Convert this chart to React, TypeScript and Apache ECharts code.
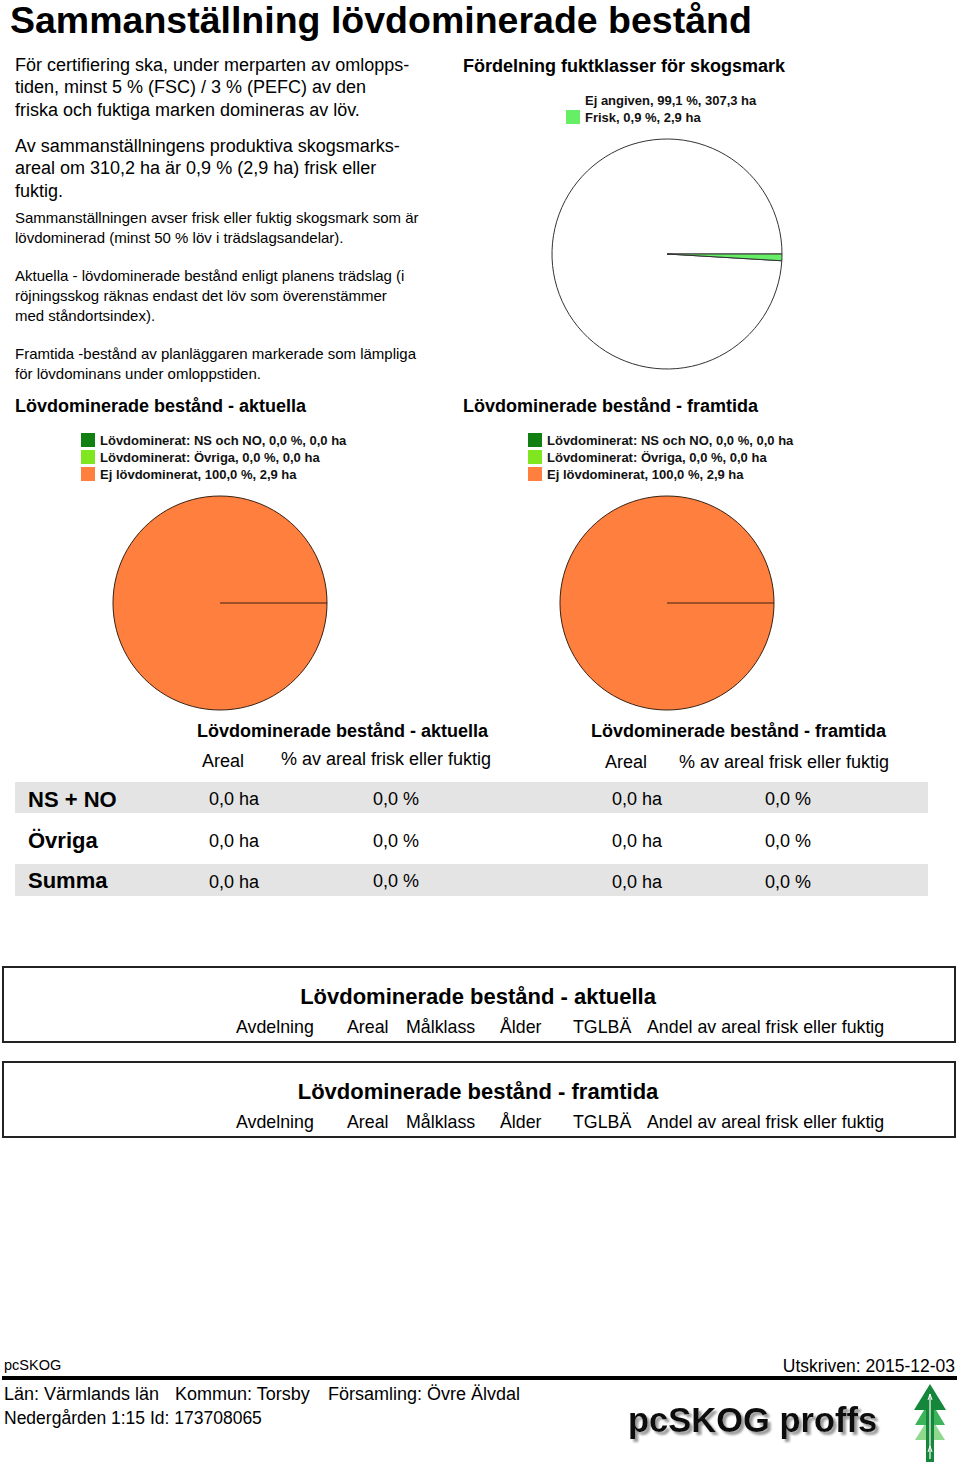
import React, { useEffect, useRef } from "react";
import * as echarts from "echarts";

const FONT = '"Liberation Sans", Arial, sans-serif';

// Pie: fuktklasser
const moistureClasses = ["Ej angiven", "Frisk"];
const moistureArea = [307.3, 2.9];
const moisturePct = [99.1, 0.9];
const moistureColors = ["#ffffff", "#66ee66"];

// Pies: lövdominerade
const leafClasses = ["Lövdominerat: NS och NO", "Lövdominerat: Övriga", "Ej lövdominerat"];
const leafColors = ["#127f12", "#80e620", "#ff7f3f"];
const currentArea = [0.0, 0.0, 2.9];
const currentPct = [0.0, 0.0, 100.0];
const futureArea = [0.0, 0.0, 2.9];
const futurePct = [0.0, 0.0, 100.0];

// Summary table
const tableRows = ["NS + NO", "Övriga", "Summa"];
const tableCurrentArea = [0.0, 0.0, 0.0];
const tableCurrentPct = [0.0, 0.0, 0.0];
const tableFutureArea = [0.0, 0.0, 0.0];
const tableFuturePct = [0.0, 0.0, 0.0];

// Detail tables
const detailColumns = ["Avdelning", "Areal", "Målklass", "Ålder", "TGLBÄ", "Andel av areal frisk eller fuktig"];

const fmt = (v: number) => v.toFixed(1).replace(".", ",");

// Pie geometry (layout)
const TOP_PIE = { center: [667, 254], radius: 115 };
const CUR_PIE = { center: [220, 603], radius: 107 };
const FUT_PIE = { center: [667, 603], radius: 107 };

function txt(text: string, x: number, y: number, size: number, opts: any = {}) {
  return {
    type: "text",
    x,
    y,
    silent: true,
    style: {
      text,
      font: `${opts.bold ? "bold " : ""}${size}px ${FONT}`,
      fill: opts.color || "#000",
      align: opts.align || "left",
      verticalAlign: "middle",
      textShadowColor: opts.shadow ? "#9a9a9a" : undefined,
      textShadowOffsetX: opts.shadow ? 3 : 0,
      textShadowOffsetY: opts.shadow ? 3 : 0,
      textShadowBlur: opts.shadow ? 2 : 0,
    },
  };
}

export default function App() {
  const ref = useRef<HTMLDivElement>(null);
  useEffect(() => {
    if (!ref.current) return;
    const chart = echarts.init(ref.current, undefined, { renderer: "svg" });

    const pieBase = {
      type: "pie",
      startAngle: 0,
      clockwise: false,
      silent: true,
      label: { show: false },
      labelLine: { show: false },
      emphasis: { disabled: true },
      avoidLabelOverlap: false,
    };

    const legendBase = {
      orient: "vertical",
      itemWidth: 14,
      itemHeight: 14,
      itemGap: 3,
      icon: "rect",
      selectedMode: false,
      itemStyle: { borderWidth: 0 },
      textStyle: { fontFamily: FONT, fontSize: 13, fontWeight: "bold", color: "#111" },
    };

    const graphics: any[] = [];
    // Title
    graphics.push(txt("Sammanställning lövdominerade bestånd", 10, 19.5, 37.5, { bold: true }));
    // Paragraphs
    const p1 = [
      "För certifiering ska, under merparten av omlopps-",
      "tiden, minst 5 % (FSC) / 3 % (PEFC) av den",
      "friska och fuktiga marken domineras av löv.",
    ];
    p1.forEach((l, i) => graphics.push(txt(l, 15, 65 + i * 22.3, 18)));
    const p2 = [
      "Av sammanställningens produktiva skogsmarks-",
      "areal om 310,2 ha är 0,9 % (2,9 ha) frisk eller",
      "fuktig.",
    ];
    p2.forEach((l, i) => graphics.push(txt(l, 15, 146 + i * 22.3, 18)));
    const p3 = [
      "Sammanställningen avser frisk eller fuktig skogsmark som är",
      "lövdominerad (minst 50 % löv i trädslagsandelar).",
    ];
    p3.forEach((l, i) => graphics.push(txt(l, 15, 217 + i * 20, 15)));
    const p4 = [
      "Aktuella - lövdominerade bestånd enligt planens trädslag (i",
      "röjningsskog räknas endast det löv som överenstämmer",
      "med ståndortsindex).",
    ];
    p4.forEach((l, i) => graphics.push(txt(l, 15, 275 + i * 20, 15)));
    const p5 = [
      "Framtida -bestånd av planläggaren markerade som lämpliga",
      "för lövdominans under omloppstiden.",
    ];
    p5.forEach((l, i) => graphics.push(txt(l, 15, 353 + i * 20, 15)));

    // Section headings
    graphics.push(txt("Fördelning fuktklasser för skogsmark", 463, 66, 18, { bold: true }));
    graphics.push(txt("Lövdominerade bestånd - aktuella", 15, 406, 18, { bold: true }));
    graphics.push(txt("Lövdominerade bestånd - framtida", 463, 406, 18, { bold: true }));

    // Seam of full-circle pies (radial edge at start angle)
    [CUR_PIE, FUT_PIE].forEach((p) => {
      graphics.push({
        type: "line",
        silent: true,
        z: 10,
        shape: { x1: p.center[0], y1: p.center[1], x2: p.center[0] + p.radius, y2: p.center[1] },
        style: { stroke: "#3a2010", lineWidth: 1 },
      });
    });

    // Summary table
    graphics.push({ type: "rect", silent: true, shape: { x: 15, y: 782, width: 913, height: 31 }, style: { fill: "#e4e4e4" } });
    graphics.push({ type: "rect", silent: true, shape: { x: 15, y: 864, width: 913, height: 32 }, style: { fill: "#e4e4e4" } });
    graphics.push(txt("Lövdominerade bestånd - aktuella", 197, 731, 18, { bold: true }));
    graphics.push(txt("Lövdominerade bestånd - framtida", 591, 731, 18, { bold: true }));
    graphics.push(txt("Areal", 202, 761, 18));
    graphics.push(txt("% av areal frisk eller fuktig", 281, 759, 18));
    graphics.push(txt("Areal", 605, 762, 18));
    graphics.push(txt("% av areal frisk eller fuktig", 679, 762, 18));
    const rowY = [799, 840, 880];
    const valY = [799, 841, 882];
    tableRows.forEach((r, i) => {
      graphics.push(txt(r, 28, rowY[i], 22, { bold: true }));
      graphics.push(txt(`${fmt(tableCurrentArea[i])} ha`, 209, valY[i], 18));
      graphics.push(txt(`${fmt(tableCurrentPct[i])} %`, 373, valY[i] - (i === 2 ? 1 : 0), 18));
      graphics.push(txt(`${fmt(tableFutureArea[i])} ha`, 612, valY[i], 18));
      graphics.push(txt(`${fmt(tableFuturePct[i])} %`, 765, valY[i], 18));
    });

    // Detail boxes
    const colX = [236, 347, 406, 500, 573, 647];
    const boxes = [
      { y: 967, title: "Lövdominerade bestånd - aktuella" },
      { y: 1062, title: "Lövdominerade bestånd - framtida" },
    ];
    boxes.forEach((b) => {
      graphics.push({
        type: "rect",
        silent: true,
        shape: { x: 3, y: b.y, width: 952, height: 75 },
        style: { fill: "none", stroke: "#222", lineWidth: 2 },
      });
      graphics.push(txt(b.title, 478, b.y + 29, 22, { bold: true, align: "center" }));
      detailColumns.forEach((c, i) => graphics.push(txt(c, colX[i], b.y + 60, 17.8)));
    });

    // Footer
    graphics.push(txt("pcSKOG", 4, 1365, 14.5));
    graphics.push(txt("Utskriven: 2015-12-03", 955, 1366, 17.5, { align: "right" }));
    graphics.push({
      type: "line",
      silent: true,
      shape: { x1: 2, y1: 1378, x2: 957, y2: 1378 },
      style: { stroke: "#000", lineWidth: 4 },
    });
    graphics.push(txt("Län: Värmlands län", 4, 1394, 18));
    graphics.push(txt("Kommun: Torsby", 175, 1394, 18));
    graphics.push(txt("Församling: Övre Älvdal", 328, 1394, 18));
    graphics.push(txt("Nedergården 1:15 Id: 173708065", 4, 1418, 17.5));
    graphics.push(txt("pcSKOG proffs", 628, 1420, 34.5, { bold: true, shadow: true, color: "#111" }));
    // Tree logo
    graphics.push({ type: "polygon", silent: true, shape: { points: [[915, 1440], [945, 1440], [930, 1416]] }, style: { fill: "#8fd98f" } });
    graphics.push({ type: "polygon", silent: true, shape: { points: [[915, 1425], [945, 1425], [930, 1400]] }, style: { fill: "#3db35a" } });
    graphics.push({ type: "polygon", silent: true, shape: { points: [[914, 1410], [946, 1410], [930, 1384]] }, style: { fill: "#14873a" } });
    graphics.push({ type: "rect", silent: true, shape: { x: 926, y: 1390, width: 8, height: 72 }, style: { fill: "#14873a" } });
    graphics.push({ type: "line", silent: true, shape: { x1: 930, y1: 1394, x2: 930, y2: 1459 }, style: { stroke: "#ffffff", lineWidth: 1.2 } });
    graphics.push({ type: "polyline", silent: true, shape: { points: [[928, 1400], [930, 1394], [932, 1400]] }, style: { stroke: "#ffffff", lineWidth: 1, fill: "none" } });
    graphics.push({ type: "polyline", silent: true, shape: { points: [[928, 1452], [930, 1446], [932, 1452]] }, style: { stroke: "#ffffff", lineWidth: 1, fill: "none" } });

    const option: any = {
      animation: false,
      backgroundColor: "#ffffff",
      textStyle: { fontFamily: FONT },
      legend: [
        {
          ...legendBase,
          data: moistureClasses,
          left: 561,
          top: 88,
          formatter: (name: string) => {
            const i = moistureClasses.indexOf(name);
            return `${name}, ${fmt(moisturePct[i])} %, ${fmt(moistureArea[i])} ha`;
          },
        },
        {
          ...legendBase,
          data: leafClasses,
          left: 76,
          top: 428,
          formatter: (name: string) => {
            const i = leafClasses.indexOf(name);
            return `${name}, ${fmt(currentPct[i])} %, ${fmt(currentArea[i])} ha`;
          },
        },
        {
          ...legendBase,
          data: leafClasses,
          left: 523,
          top: 428,
          formatter: (name: string) => {
            const i = leafClasses.indexOf(name);
            return `${name}, ${fmt(futurePct[i])} %, ${fmt(futureArea[i])} ha`;
          },
        },
      ],
      series: [
        {
          ...pieBase,
          name: "Fuktklasser",
          center: TOP_PIE.center,
          radius: TOP_PIE.radius,
          itemStyle: { borderColor: "#333", borderWidth: 1 },
          data: moistureClasses.map((n, i) => ({ name: n, value: moistureArea[i], itemStyle: { color: moistureColors[i] } })),
        },
        {
          ...pieBase,
          name: "Aktuella",
          center: CUR_PIE.center,
          radius: CUR_PIE.radius,
          itemStyle: { borderColor: "#3a2010", borderWidth: 1 },
          data: leafClasses.map((n, i) => ({ name: n, value: currentArea[i], itemStyle: { color: leafColors[i] } })),
        },
        {
          ...pieBase,
          name: "Framtida",
          center: FUT_PIE.center,
          radius: FUT_PIE.radius,
          itemStyle: { borderColor: "#3a2010", borderWidth: 1 },
          data: leafClasses.map((n, i) => ({ name: n, value: futureArea[i], itemStyle: { color: leafColors[i] } })),
        },
      ],
      graphic: graphics,
    };
    chart.setOption(option);
    return () => chart.dispose();
  }, []);

  return (
    <div
      ref={ref}
      style={{ position: "absolute", left: 0, top: 0, width: 960, height: 1464, background: "#fff" }}
    />
  );
}
